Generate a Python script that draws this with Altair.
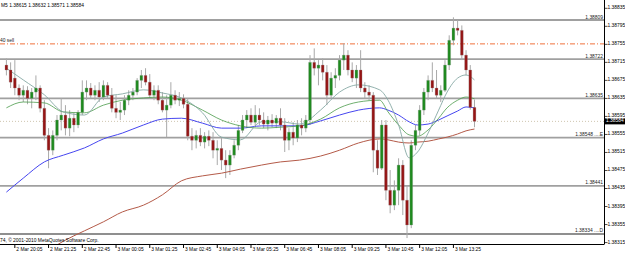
import altair as alt
import pandas as pd

# ---------------- data ----------------
opens = [1.38709,1.38698,1.38680,1.38658,1.38642,1.38653,1.38635,1.38649,1.38658,1.38613,
1.38553,1.38520,1.38553,1.38587,1.38598,1.38569,1.38591,1.38576,1.38604,1.38649,
1.38658,1.38642,1.38653,1.38638,1.38664,1.38642,1.38613,1.38604,1.38609,1.38631,
1.38642,1.38649,1.38675,1.38686,1.38671,1.38642,1.38653,1.38631,1.38609,1.38620,
1.38642,1.38631,1.38635,1.38622,1.38551,1.38542,1.38553,1.38538,1.38551,1.38542,
1.38520,1.38524,1.38498,1.38487,1.38509,1.38531,1.38564,1.38587,1.38598,1.38582,
1.38598,1.38587,1.38578,1.38587,1.38580,1.38591,1.38576,1.38542,1.38560,1.38547,
1.38576,1.38569,1.38587,1.38715,1.38702,1.38709,1.38693,1.38642,1.38680,1.38686,
1.38720,1.38731,1.38698,1.38680,1.38698,1.38658,1.38649,1.38642,1.38520,1.38480,
1.38576,1.38431,1.38398,1.38431,1.38487,1.38409,1.38354,1.38531,1.38564,1.38609,
1.38649,1.38675,1.38658,1.38642,1.38653,1.38709,1.38764,1.38791,1.38786,1.38731,
1.38698,1.38615]
highs = [1.38724,1.38715,1.38720,1.38666,1.38664,1.38662,1.38658,1.38686,1.38664,1.38631,
1.38569,1.38564,1.38598,1.38635,1.38620,1.38609,1.38604,1.38609,1.38675,1.38675,
1.38669,1.38664,1.38671,1.38675,1.38671,1.38658,1.38642,1.38627,1.38642,1.38653,
1.38658,1.38680,1.38698,1.38702,1.38689,1.38664,1.38664,1.38649,1.38642,1.38671,
1.38653,1.38649,1.38644,1.38635,1.38569,1.38564,1.38569,1.38560,1.38564,1.38560,
1.38542,1.38547,1.38520,1.38520,1.38542,1.38576,1.38598,1.38609,1.38613,1.38620,
1.38613,1.38604,1.38596,1.38600,1.38598,1.38613,1.38591,1.38569,1.38582,1.38587,
1.38591,1.38598,1.38731,1.38746,1.38720,1.38724,1.38709,1.38693,1.38702,1.38731,
1.38757,1.38742,1.38715,1.38709,1.38742,1.38671,1.38664,1.38649,1.38542,1.38587,
1.38587,1.38476,1.38453,1.38502,1.38498,1.38442,1.38542,1.38576,1.38620,1.38658,
1.38686,1.38715,1.38698,1.38664,1.38720,1.38775,1.38815,1.38809,1.38797,1.38742,
1.38709,1.38632]
lows = [1.38686,1.38658,1.38642,1.38631,1.38627,1.38622,1.38613,1.38631,1.38604,1.38542,
1.38480,1.38509,1.38542,1.38564,1.38553,1.38551,1.38560,1.38569,1.38598,1.38631,
1.38635,1.38631,1.38627,1.38631,1.38635,1.38604,1.38591,1.38587,1.38598,1.38620,
1.38631,1.38642,1.38658,1.38664,1.38635,1.38631,1.38622,1.38604,1.38549,1.38613,
1.38622,1.38618,1.38613,1.38542,1.38520,1.38524,1.38529,1.38524,1.38529,1.38502,
1.38487,1.38476,1.38458,1.38465,1.38502,1.38520,1.38558,1.38569,1.38576,1.38573,
1.38576,1.38569,1.38564,1.38571,1.38569,1.38564,1.38516,1.38520,1.38531,1.38538,
1.38553,1.38560,1.38576,1.38686,1.38664,1.38675,1.38620,1.38635,1.38658,1.38675,
1.38698,1.38686,1.38671,1.38658,1.38649,1.38635,1.38631,1.38471,1.38465,1.38476,
1.38409,1.38380,1.38387,1.38398,1.38376,1.38325,1.38347,1.38520,1.38553,1.38598,
1.38631,1.38649,1.38635,1.38627,1.38649,1.38698,1.38753,1.38775,1.38720,1.38686,
1.38610,1.38571]
closes = [1.38698,1.38671,1.38658,1.38642,1.38653,1.38635,1.38649,1.38658,1.38613,1.38553,
1.38520,1.38553,1.38587,1.38598,1.38569,1.38591,1.38576,1.38604,1.38649,1.38658,
1.38642,1.38653,1.38638,1.38664,1.38642,1.38613,1.38604,1.38609,1.38631,1.38642,
1.38649,1.38675,1.38686,1.38671,1.38642,1.38653,1.38631,1.38609,1.38620,1.38642,
1.38631,1.38635,1.38622,1.38551,1.38542,1.38553,1.38538,1.38551,1.38542,1.38520,
1.38524,1.38498,1.38487,1.38509,1.38531,1.38564,1.38587,1.38598,1.38582,1.38598,
1.38587,1.38578,1.38587,1.38580,1.38591,1.38576,1.38542,1.38560,1.38547,1.38576,
1.38569,1.38587,1.38715,1.38702,1.38709,1.38693,1.38642,1.38680,1.38686,1.38720,
1.38731,1.38698,1.38680,1.38698,1.38658,1.38649,1.38642,1.38520,1.38480,1.38576,
1.38431,1.38398,1.38431,1.38487,1.38409,1.38354,1.38531,1.38564,1.38609,1.38649,
1.38675,1.38658,1.38642,1.38653,1.38709,1.38764,1.38791,1.38786,1.38731,1.38698,
1.38615,1.38584]
candle_bars = list(range(-4, -4 + 2 * len(opens), 2))   # bar number (5-min bars, 0 = 2 Mar 20:05)

ma_bars = [-4, 4, 14, 23, 33, 42, 51, 61, 70, 79, 89, 98, 107, 117, 126, 135, 145,
           154, 163, 173, 177, 182, 187, 191, 196, 201, 205, 210, 214, 218]
ma_fast = [1.38702,1.38676,1.38643,1.38605,1.38598,1.38638,1.38645,1.38654,1.38647,1.38636,
           1.38603,1.38549,1.38543,1.38583,1.38583,1.38578,1.38609,1.38649,1.38665,1.38654,
           1.38631,1.38576,1.38503,1.38516,1.38558,1.38609,1.38649,1.38680,1.38687,1.38676]
ma_mid = [1.38614,1.38627,1.38625,1.38605,1.38603,1.38620,1.38631,1.38636,1.38638,1.38631,
          1.38609,1.38587,1.38574,1.38569,1.38571,1.38574,1.38589,1.38614,1.38627,1.38631,
          1.38605,1.38576,1.38554,1.38551,1.38565,1.38591,1.38614,1.38631,1.38638,1.38634]
ma_slow = [1.38427,1.38458,1.38494,1.38509,1.38525,1.38545,1.38558,1.38576,1.38589,1.38591,
           1.38580,1.38569,1.38569,1.38574,1.38574,1.38574,1.38585,1.38598,1.38609,1.38614,
           1.38609,1.38598,1.38583,1.38576,1.38578,1.38587,1.38596,1.38607,1.38616,1.38614]
ma200_bars = [14, 23, 33, 42, 51, 61, 70, 79, 89, 98, 107, 117, 126, 135, 145, 154, 163,
              173, 177, 182, 187, 191, 196, 201, 205, 210, 214, 218]
ma200 = [1.38292,1.38318,1.38341,1.38361,1.38383,1.38398,1.38421,1.38452,1.38463,1.38469,
         1.38478,1.38487,1.38494,1.38498,1.38507,1.38520,1.38536,1.38545,1.38543,1.38538,
         1.38536,1.38538,1.38540,1.38545,1.38549,1.38556,1.38563,1.38567]

level_prices = [1.38809, 1.38722, 1.38635, 1.38548, 1.38441, 1.38334]
level_labels = ["1.38809", "1.38722", "1.38635", "1.38548 ....E", "1.38441", "1.38334 ....D"]
sell_price = 1.38756
sell_label = "40 sell"
last_price = 1.38584
header = "M5  1.38615 1.38632 1.38571 1.38584"
copyright_text = "74, \u00a9 2001-2010 MetaQuotes Software Corp."

price_ticks = [1.38835, 1.38795, 1.38755, 1.38715, 1.38675, 1.38635, 1.38595,
               1.38555, 1.38515, 1.38475, 1.38435, 1.38395, 1.38355, 1.38315]
time_tick_bars = [0, 16, 32, 48, 64, 80, 96, 112, 128, 144, 160, 176, 192, 208]
time_labels = ["2 Mar 20:05", "2 Mar 21:25", "2 Mar 22:45", "3 Mar 00:05", "3 Mar 01:25",
               "3 Mar 02:45", "3 Mar 04:05", "3 Mar 05:25", "3 Mar 06:45", "3 Mar 08:05",
               "3 Mar 09:25", "3 Mar 10:45", "3 Mar 12:05", "3 Mar 13:25"]

# ---------------- frames ----------------
candles = pd.DataFrame({"bar": candle_bars, "open": opens, "high": highs,
                        "low": lows, "close": closes})
candles["dir"] = ["up" if c >= o else "down" for o, c in zip(opens, closes)]
ma_df = pd.DataFrame({"bar": ma_bars, "fast": ma_fast, "mid": ma_mid, "slow": ma_slow})
ma200_df = pd.DataFrame({"bar": ma200_bars, "ma": ma200})
levels = pd.DataFrame({"price": level_prices, "label": level_labels})
ticks_df = pd.DataFrame({"bar": time_tick_bars, "label": time_labels})
pticks_df = pd.DataFrame({"price": price_ticks})

FONT = "Liberation Sans"
FS = 4.9

xscale = alt.Scale(domain=[-4.664, 277.05], nice=False, zero=False)
yscale = alt.Scale(domain=[1.383118, 1.388534], nice=False, zero=False)

def X():
    return alt.X("bar:Q", scale=xscale, axis=None)

def Y(field):
    return alt.Y(field + ":Q", scale=yscale, axis=None)

one = pd.DataFrame({"k": [0]})
# frame lines (right and bottom border of the plot)
frame = alt.Chart(one).mark_rule(color="#000", strokeWidth=1).encode(
    x=alt.value(604.5), y=alt.value(0), y2=alt.value(244))
frame_b = alt.Chart(one).mark_rule(color="#000", strokeWidth=1).encode(
    x=alt.value(0), x2=alt.value(604.5), y=alt.value(244.5))

# price axis ticks and labels
pticks = alt.Chart(pticks_df).mark_tick(color="#000", thickness=1, size=3).encode(
    x=alt.value(606), y=Y("price"))
plabels = alt.Chart(pticks_df).mark_text(align="left", baseline="middle", font=FONT,
                                         fontSize=FS, color="#000").encode(
    x=alt.value(607.5), y=Y("price"), text=alt.Text("price:Q", format=".5f"))

# time axis ticks and labels
tticks = alt.Chart(ticks_df).mark_rule(color="#000", strokeWidth=1).encode(
    x=X(), y=alt.value(244.5), y2=alt.value(248))
tlabels = alt.Chart(ticks_df).mark_text(align="left", baseline="middle", dx=1.5,
                                        font=FONT, fontSize=FS, color="#000").encode(
    x=X(), y=alt.value(249.5), text="label:N")

wicks = alt.Chart(candles).mark_rule(color="#a9a9a9", strokeWidth=1).encode(
    x=X(), y=Y("low"), y2="high:Q")
up_bodies = alt.Chart(candles).transform_filter("datum.dir == 'up'").mark_bar(
    size=2.8, color="#1e8a1e", stroke="#8a9a8a", strokeWidth=0.3).encode(
    x=X(), y=Y("open"), y2="close:Q")
down_bodies = alt.Chart(candles).transform_filter("datum.dir == 'down'").mark_bar(
    size=2.8, color="#951515", stroke="#9a8a8a", strokeWidth=0.3).encode(
    x=X(), y=Y("open"), y2="close:Q")

def ma_line(df, field, color, width=1.0):
    return alt.Chart(df).mark_line(color=color, strokeWidth=width, clip=True,
                                   interpolate="monotone").encode(x=X(), y=Y(field))

fast_line = ma_line(ma_df, "fast", "#86a8a4", 0.9)
mid_line = ma_line(ma_df, "mid", "#4a9a4a", 0.8)
slow_line = ma_line(ma_df, "slow", "#4646f0", 1.0)
long_line = ma_line(ma200_df, "ma", "#b45a48", 1.0)

level_rules = alt.Chart(levels).transform_filter("datum.price > 1.3840").mark_rule(
    color="#a0a0a0", strokeWidth=1.8).encode(
    x=alt.value(0), x2=alt.value(604), y=Y("price"))
level_rule_low = alt.Chart(levels).transform_filter("datum.price < 1.3840").mark_rule(
    color="#6a6a6a", strokeWidth=1.3).encode(
    x=alt.value(0), x2=alt.value(604), y=Y("price"))
level_text = alt.Chart(levels).mark_text(align="right", baseline="bottom", dy=-0.5,
                                         font=FONT, fontSize=FS, color="#222").encode(
    x=alt.value(603), y=Y("price"), text="label:N")

sell_df = pd.DataFrame({"price": [sell_price], "label": [sell_label]})
sell_rule = alt.Chart(sell_df).mark_rule(color="#f0703c", strokeWidth=1,
                                         strokeDash=[5, 2, 1, 2]).encode(
    x=alt.value(0), x2=alt.value(604), y=Y("price"))
sell_text = alt.Chart(sell_df).mark_text(align="left", baseline="bottom", dy=-1,
                                         font=FONT, fontSize=FS, color="#222").encode(
    x=alt.value(0), y=Y("price"), text="label:N")

last_df = pd.DataFrame({"price": [last_price]})
last_rule = alt.Chart(last_df).mark_rule(color="#cfc6b0", strokeWidth=1,
                                         strokeDash=[1, 2]).encode(
    x=alt.value(0), x2=alt.value(604), y=Y("price"))
last_box = alt.Chart(last_df).mark_tick(color="black", thickness=6, size=20,
                                        opacity=1).encode(
    x=alt.value(615), y=Y("price"))
last_text = alt.Chart(last_df).mark_text(align="left", baseline="middle",
                                         font=FONT, fontSize=FS, color="white").encode(
    x=alt.value(606), y=Y("price"), text=alt.Text("price:Q", format=".5f"))

hdr = alt.Chart(pd.DataFrame({"t": [header]})).mark_text(
    align="left", baseline="middle", font=FONT, fontSize=FS, color="#000").encode(
    x=alt.value(1), y=alt.value(6), text="t:N")
copy_txt = alt.Chart(pd.DataFrame({"t": [copyright_text]})).mark_text(
    align="left", baseline="middle", font=FONT, fontSize=FS, color="#000").encode(
    x=alt.value(0), y=alt.value(240.5), text="t:N")

chart = alt.layer(
    level_rules, level_rule_low, sell_rule, last_rule, wicks, long_line, slow_line,
    mid_line, fast_line, up_bodies, down_bodies, level_text, sell_text, frame, frame_b,
    pticks, plabels, tticks, tlabels, last_box, last_text, hdr, copy_txt,
).properties(
    width=604, height=244,
    autosize=alt.AutoSizeParams(type="none"),
    padding={"left": 0, "top": 0, "right": 21, "bottom": 10},
    background="white",
).configure_view(stroke=None)

chart.save("out.html", embed_options={"renderer": "svg", "actions": False})
